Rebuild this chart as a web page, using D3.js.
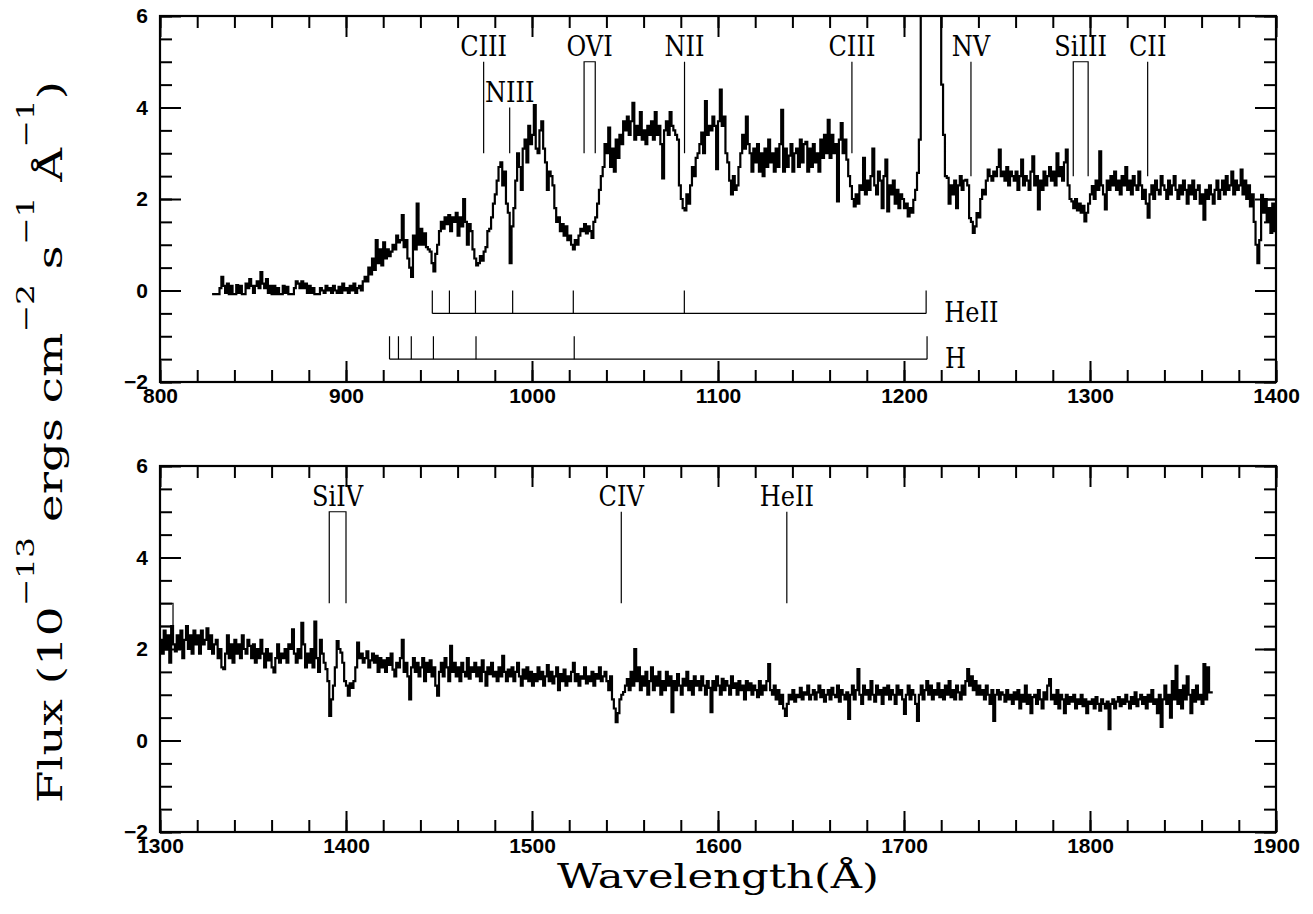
<!DOCTYPE html>
<html><head><meta charset="utf-8">
<script src="https://cdn.jsdelivr.net/npm/d3@7"></script>
<style>body{margin:0;background:#fff}svg{display:block}</style>
</head><body>
<svg id="chart" width="1313" height="914"></svg>
<script>
// ---------- DATA ----------
const topStart = 828; // Å, 1 Å bins
const topFlux = [
-0.08,-0.08,
-0.08,-0.08,0.05,0.3,0.1,-0.05,0.15,-0.08,0.1,-0.08,
-0.08,0.12,-0.05,0.1,-0.08,-0.08,0.15,0.05,0.25,0.1,
-0.05,0.1,0.2,0.05,0.4,0.15,0.05,0.25,-0.05,0.1,
-0.08,0.1,-0.08,0.05,-0.08,-0.08,0.1,-0.05,0.08,-0.08,
-0.08,-0.08,0.05,0.2,0.15,0.05,0.2,0.05,0.15,-0.05,
0.1,-0.05,0.05,-0.08,-0.08,-0.08,0.05,0.0,-0.05,0.1,
0.0,0.05,-0.05,0.1,0.0,-0.05,0.08,-0.05,0.15,0.0,
0.05,-0.05,0.1,0.0,0.15,-0.05,0.05,0.1,0.0,0.2,
0.3,0.2,0.5,0.35,0.7,0.45,1.1,0.6,0.9,0.55,
1.05,0.7,0.9,0.75,0.85,1.0,0.9,1.2,1.05,1.1,
1.65,0.95,1.1,0.7,0.5,0.3,1.2,0.9,1.9,1.0,
1.35,1.0,1.25,0.95,0.9,0.85,0.6,0.42,0.8,1.0,
1.3,1.5,1.35,1.6,1.45,1.65,1.3,1.6,1.5,1.7,
1.2,1.6,1.4,2.0,1.5,1.0,1.45,1.3,0.9,0.7,
0.55,0.6,0.75,0.65,0.85,0.95,1.3,1.35,1.6,1.9,
2.1,2.4,2.7,2.8,2.3,2.6,1.9,1.7,0.6,1.4,
1.8,2.4,3.0,2.7,2.2,3.1,3.3,2.8,3.6,3.2,
3.4,4.05,3.1,3.0,3.5,3.7,3.1,2.8,2.2,2.6,
2.5,2.3,1.8,1.5,1.6,1.3,1.45,1.2,1.4,1.1,
1.2,1.0,0.9,1.1,1.0,1.2,1.35,1.3,1.45,1.25,
1.4,1.3,1.15,1.5,1.6,1.9,2.2,2.5,2.7,3.2,
3.0,3.56,2.7,3.1,2.6,3.3,2.9,3.4,3.2,3.7,
3.5,3.8,3.4,3.7,4.1,3.3,3.6,3.4,3.9,3.3,
3.5,3.2,3.6,3.4,3.7,3.3,3.9,3.4,3.6,3.2,
2.45,3.5,3.7,3.4,3.9,3.6,3.5,3.4,3.3,2.3,
2.0,1.8,1.75,2.1,1.9,2.3,2.7,2.5,2.9,3.0,
3.2,3.45,3.0,4.14,3.4,3.6,3.5,3.8,3.6,2.65,
3.7,4.39,3.6,3.8,3.0,2.8,2.4,2.1,2.5,2.2,
2.3,2.7,3.0,3.4,3.1,3.8,3.2,3.0,2.6,3.1,
2.8,3.2,2.6,3.0,2.5,3.1,2.7,3.3,2.8,3.0,
2.6,3.1,2.7,3.2,3.95,2.6,3.1,2.7,2.95,3.2,
2.6,3.0,3.1,2.7,3.3,2.8,3.2,3.25,2.6,3.1,
2.7,3.2,2.8,3.0,2.6,3.3,2.9,3.4,3.0,3.73,
2.9,3.4,3.0,3.2,1.95,3.3,3.66,3.0,3.3,2.86,
2.5,2.28,2.0,1.84,2.1,1.9,2.3,2.2,2.9,2.1,
2.4,2.2,2.5,3.1,2.3,2.1,2.6,2.4,1.8,2.5,
2.86,1.73,2.3,2.1,2.4,1.9,2.2,1.8,2.1,2.0,
1.8,1.9,1.62,1.8,1.7,1.98,2.2,2.57,3.3,7.0,
7.0,7.0,7.0,7.0,7.0,7.0,7.0,7.0,7.0,6.5,
4.5,3.4,2.5,2.46,1.9,2.3,2.1,2.4,1.8,2.3,
2.5,2.2,2.4,2.42,2.3,1.58,1.5,1.26,1.4,1.69,
1.6,2.0,2.2,2.1,2.4,2.64,2.5,2.4,2.6,2.5,
2.7,3.08,2.5,2.6,2.4,2.7,2.3,2.6,2.5,2.4,
2.6,2.2,2.5,2.86,2.3,2.5,2.4,2.2,2.6,2.93,
2.3,2.5,1.77,2.4,2.2,2.6,2.3,2.5,2.7,2.4,
2.6,2.3,3.0,2.5,2.7,2.4,2.8,3.08,2.3,2.0,
1.95,1.8,2.0,1.75,1.9,1.7,1.85,1.51,1.7,1.9,
2.1,2.28,2.0,2.4,2.2,3.04,2.3,2.1,1.77,2.4,
2.2,2.5,2.3,2.6,2.2,2.4,2.1,2.5,2.3,2.7,
2.2,2.4,2.1,2.5,2.3,2.2,2.6,2.3,2.0,2.2,
1.9,1.59,2.1,2.3,2.0,2.4,2.2,2.1,2.5,2.3,
2.2,2.0,2.4,2.1,2.3,2.5,2.2,2.0,2.3,2.1,
2.4,2.2,1.9,2.3,2.1,2.4,2.0,2.2,2.3,1.9,
2.1,1.55,2.2,2.0,2.3,2.1,1.9,2.2,2.4,2.0,
2.2,2.4,2.1,2.5,2.2,2.3,2.6,2.1,2.4,2.2,
2.3,2.64,2.1,2.4,2.0,2.3,1.84,2.1,1.5,1.0,
0.6,1.1,2.09,1.7,2.0,1.5,1.8,1.26,1.9,1.3
];
const bottomStart = 1300; // Å, 1 Å bins
const bottomFlux = [
2.2,1.9,2.4,2.0,2.3,1.7,2.5,2.1,1.95,2.3,
2.0,2.4,1.8,2.2,2.5,2.0,2.3,1.9,2.4,2.1,
2.3,1.9,2.4,2.1,2.2,2.45,2.0,2.3,1.9,2.1,
2.2,1.8,2.0,1.6,1.56,1.9,2.3,1.8,2.1,1.7,
2.2,1.9,2.1,1.8,2.3,2.0,1.9,2.2,2.07,1.8,
2.1,1.7,2.0,1.8,2.2,1.9,1.6,2.0,1.75,1.9,
1.6,1.49,1.8,2.1,1.7,1.9,1.8,2.0,1.7,2.1,
2.0,2.43,1.9,1.7,2.0,1.8,2.57,2.1,1.6,1.9,
1.7,2.0,1.6,2.6,1.8,1.5,2.2,1.9,1.7,1.56,
1.3,0.54,0.9,1.2,1.6,2.17,2.0,1.92,1.7,1.3,
1.2,0.98,1.25,1.15,1.3,1.6,2.14,1.8,1.9,1.7,
1.8,1.95,1.6,1.75,1.9,1.7,1.85,1.5,1.8,1.6,
1.75,1.5,1.8,1.65,1.9,1.55,1.4,1.7,1.6,1.8,
2.2,1.5,1.7,1.4,0.9,1.6,1.8,1.5,1.7,1.4,
1.6,1.8,1.3,1.7,1.5,1.75,1.4,1.6,1.2,0.98,
1.5,1.7,1.4,1.8,1.6,1.3,2.07,1.5,1.7,1.4,
1.6,1.3,1.7,1.5,1.4,1.8,1.35,1.6,1.5,1.7,
1.4,1.6,1.3,1.75,1.5,1.2,1.6,1.45,1.7,1.4,
1.5,1.3,1.6,1.4,1.85,1.5,1.3,1.55,1.4,1.6,
1.3,1.5,1.7,1.4,1.2,1.55,1.35,1.6,1.3,1.5,
1.2,1.45,1.3,1.6,1.34,1.5,1.2,1.4,1.65,1.3,
1.5,1.25,1.4,1.6,1.1,1.45,1.3,1.55,1.2,1.4,
1.3,1.5,1.7,1.3,1.45,1.2,1.4,1.35,1.6,1.25,
1.4,1.3,1.5,1.2,1.45,1.35,1.6,1.3,1.4,1.5,
1.3,1.1,1.4,0.9,0.7,0.4,0.6,0.9,1.0,1.06,
1.2,1.34,1.1,1.5,1.2,2.0,1.3,1.6,1.1,1.4,
1.2,1.5,1.0,1.3,1.6,1.1,1.4,1.2,1.5,1.0,
1.3,1.1,1.5,1.2,1.4,0.62,1.3,1.1,1.45,1.2,
1.0,1.35,1.2,1.5,1.1,1.3,1.0,1.4,1.2,1.3,
1.1,1.4,1.2,1.0,1.3,1.15,0.62,1.3,1.1,1.4,
1.2,1.0,1.35,1.1,1.3,1.2,1.0,1.4,1.15,1.25,
1.0,1.3,1.1,1.2,0.9,1.3,1.1,1.25,1.0,1.2,
1.1,0.95,1.3,1.0,1.2,1.1,1.3,1.67,1.1,1.0,
1.2,0.9,1.1,0.8,1.0,0.7,0.54,0.8,1.0,0.9,
1.1,0.85,1.0,0.95,1.15,0.9,1.05,1.0,1.2,0.9,
1.0,1.1,0.9,1.05,1.2,0.95,1.1,0.85,1.0,1.1,
0.9,1.15,1.0,0.95,1.2,0.85,1.1,1.0,0.9,1.05,
0.47,1.0,1.2,0.9,1.1,1.56,1.0,0.8,1.2,1.0,
1.1,0.9,1.3,1.0,0.85,1.2,1.0,1.1,0.8,1.15,
1.0,1.2,0.9,1.1,1.0,0.8,1.2,1.0,1.1,0.9,
0.58,1.0,1.2,0.9,1.1,1.0,0.8,0.43,1.0,1.2,
0.9,1.1,1.3,1.0,1.2,0.9,1.1,1.0,1.25,0.95,
1.1,0.9,1.2,1.0,1.3,0.95,1.1,0.9,1.2,1.05,
0.9,1.2,1.0,1.3,1.56,1.2,1.4,1.1,1.3,1.0,
1.2,1.0,1.1,0.9,1.2,1.0,0.8,1.1,0.43,1.0,
1.1,0.9,1.05,1.0,0.85,1.1,0.9,1.0,0.8,1.05,
0.9,1.1,0.7,1.0,0.85,1.2,0.8,1.0,0.6,0.95,
1.0,0.8,1.1,0.9,0.7,1.05,0.9,1.2,1.34,0.9,
1.0,0.8,1.1,0.7,1.0,0.9,0.6,1.0,0.8,0.95,
0.85,1.0,0.7,0.9,0.8,1.0,0.75,0.9,0.6,0.85,
0.8,0.9,0.7,0.95,0.8,0.65,0.9,0.8,0.7,0.85,
0.25,0.8,0.9,0.7,0.85,0.95,0.75,0.9,0.8,1.0,
0.85,0.7,0.95,0.8,1.05,0.75,0.9,1.0,0.8,0.95,
0.7,1.0,0.85,1.1,0.8,0.9,0.6,1.0,0.3,0.9,
1.2,0.8,1.0,0.5,1.3,0.9,1.63,0.8,1.1,0.7,
1.2,0.9,1.4,1.0,0.6,1.1,0.85,1.2,0.9,1.0,
0.8,1.67,0.9,1.6,1.05,1.05
];

const topXTicks = [800, 900, 1000, 1100, 1200, 1300, 1400];
const bottomXTicks = [1300, 1400, 1500, 1600, 1700, 1800, 1900];
const yTicks = [-2, 0, 2, 4, 6];

// single-line identifications (wavelength, flux range of the marker)
const topLineLabels = ["CIII", "NIII", "NII", "CIII", "NV", "CII"];
const topLineWaves  = [974, 988, 1082, 1172, 1236, 1331];
const topLineLow    = [3, 3, 3, 3, 2.5, 2.5];
const topLineHigh   = [5, 4, 5, 5, 5, 5];
// doublet boxes
const topBoxLabels = ["OVI", "SiIII"];
const topBoxLeft   = [1028, 1291];
const topBoxRight  = [1034, 1299];
const topBoxLow    = [3, 2.5];
const topBoxHigh   = [5, 5];

const bottomLineLabels = ["CIV", "HeII"];
const bottomLineWaves  = [1548, 1637];
const bottomLineLow    = [3, 3];
const bottomLineHigh   = [5, 5];
const bottomBoxLabels = ["SiIV", ""];
const bottomBoxLeft   = [1391, 1300];
const bottomBoxRight  = [1400, 1307];
const bottomBoxLow    = [3, 2.5];
const bottomBoxHigh   = [5, 3];

// series limits (Lyman-like ladders)
const heiiSeries = [946.4, 955.6, 969.6, 989.6, 1022.2, 1081.9, 1211.9];
const hSeries    = [923.4, 928.2, 935.1, 947.0, 969.9, 1022.7, 1212.4];
const seriesLabels = ["HeII", "H"];
const seriesTop    = [0, -1.0];
const seriesBase   = [-0.5, -1.5];

// ---------- DRAW ----------
const svg = d3.select("#chart");
const serif = "'DejaVu Serif', serif";
const sans = "'Liberation Sans', Arial, sans-serif";

function panel(cfg) {
  const x = d3.scaleLinear().domain(cfg.xDomain).range([cfg.x0, cfg.x1]);
  const y = d3.scaleLinear().domain([-2, 6]).range([cfg.y1, cfg.y0]);
  const g = svg.append("g");
  const clipId = "clip" + cfg.id;
  svg.append("clipPath").attr("id", clipId).append("rect")
    .attr("x", cfg.x0).attr("y", cfg.y0).attr("width", cfg.x1 - cfg.x0).attr("height", cfg.y1 - cfg.y0);

  const minorX = d3.range(cfg.xDomain[0], cfg.xDomain[1] + 1, 20);
  const minorY = d3.range(-2, 6.01, 0.5);
  const styleAxis = sel => {
    sel.select(".domain").remove();
    sel.selectAll(".tick line").attr("stroke", "#000").attr("stroke-width", 2);
    sel.selectAll(".tick text").attr("font-family", sans).attr("font-weight", "bold")
      .attr("font-size", 21).attr("fill", "#000");
  };
  // bottom
  g.append("g").attr("transform", `translate(0,${cfg.y1})`)
    .call(d3.axisBottom(x).tickValues(minorX).tickSize(-12).tickFormat("")).call(styleAxis);
  g.append("g").attr("transform", `translate(0,${cfg.y1})`)
    .call(d3.axisBottom(x).tickValues(cfg.xTicks).tickSize(-21).tickPadding(6).tickFormat(d3.format("d"))).call(styleAxis);
  // top
  g.append("g").attr("transform", `translate(0,${cfg.y0})`)
    .call(d3.axisTop(x).tickValues(minorX).tickSize(-12).tickFormat("")).call(styleAxis);
  g.append("g").attr("transform", `translate(0,${cfg.y0})`)
    .call(d3.axisTop(x).tickValues(cfg.xTicks).tickSize(-21).tickFormat("")).call(styleAxis);
  // left
  g.append("g").attr("transform", `translate(${cfg.x0},0)`)
    .call(d3.axisLeft(y).tickValues(minorY).tickSize(-12).tickFormat("")).call(styleAxis);
  g.append("g").attr("transform", `translate(${cfg.x0},0)`)
    .call(d3.axisLeft(y).tickValues(yTicks).tickSize(-21).tickPadding(12).tickFormat(d3.format("d"))).call(styleAxis);
  // right
  g.append("g").attr("transform", `translate(${cfg.x1},0)`)
    .call(d3.axisRight(y).tickValues(minorY).tickSize(-12).tickFormat("")).call(styleAxis);
  g.append("g").attr("transform", `translate(${cfg.x1},0)`)
    .call(d3.axisRight(y).tickValues(yTicks).tickSize(-21).tickFormat("")).call(styleAxis);

  // frame
  g.append("rect").attr("x", cfg.x0).attr("y", cfg.y0)
    .attr("width", cfg.x1 - cfg.x0).attr("height", cfg.y1 - cfg.y0)
    .attr("fill", "none").attr("stroke", "#000").attr("stroke-width", 2.2);

  // spectrum
  const pts = cfg.flux.map((v, i) => [cfg.start + i, v]);
  pts.push([cfg.start + cfg.flux.length, cfg.flux[cfg.flux.length - 1]]);
  const line = d3.line().x(d => x(d[0])).y(d => y(d[1])).curve(d3.curveStepAfter);
  g.append("path").datum(pts).attr("d", line).attr("clip-path", `url(#${clipId})`)
    .attr("fill", "none").attr("stroke", "#000").attr("stroke-width", 2.2).attr("stroke-linejoin", "miter");

  const ann = g.append("g").attr("fill", "none").attr("stroke", "#000").attr("stroke-width", 1.2);
  const label = (txt, cx, by, anchor) => {
    if (!txt) return;
    g.append("text").attr("transform", `translate(${cx},${by}) scale(0.86,1)`)
      .attr("text-anchor", anchor || "middle").attr("font-family", serif).attr("font-size", 28)
      .attr("fill", "#000").text(txt);
  };
  cfg.lineWaves.forEach((w, i) => {
    ann.append("path").attr("d", `M${x(w)},${y(cfg.lineLow[i])}V${y(cfg.lineHigh[i])}`);
    label(cfg.lineLabels[i], x(w), y(cfg.lineHigh[i]) - 6);
  });
  cfg.boxLeft.forEach((l, i) => {
    const r = cfg.boxRight[i];
    const closed = !cfg.boxLabels[i];
    ann.append("path").attr("d",
      `M${x(l)},${y(cfg.boxLow[i])}V${y(cfg.boxHigh[i])}H${x(r)}V${y(cfg.boxLow[i])}` + (closed ? `H${x(l)}` : ""));
    label(cfg.boxLabels[i], (x(l) + x(r)) / 2, y(cfg.boxHigh[i]) - 6);
  });
  return {x, y, g};
}

const topP = panel({
  id: "top", x0: 160, x1: 1276, y0: 16, y1: 382, xDomain: [800, 1400], xTicks: topXTicks,
  start: topStart, flux: topFlux,
  lineLabels: topLineLabels, lineWaves: topLineWaves, lineLow: topLineLow, lineHigh: topLineHigh,
  boxLabels: topBoxLabels, boxLeft: topBoxLeft, boxRight: topBoxRight, boxLow: topBoxLow, boxHigh: topBoxHigh
});
panel({
  id: "bot", x0: 160, x1: 1276, y0: 466, y1: 832, xDomain: [1300, 1900], xTicks: bottomXTicks,
  start: bottomStart, flux: bottomFlux,
  lineLabels: bottomLineLabels, lineWaves: bottomLineWaves, lineLow: bottomLineLow, lineHigh: bottomLineHigh,
  boxLabels: bottomBoxLabels, boxLeft: bottomBoxLeft, boxRight: bottomBoxRight, boxLow: bottomBoxLow, boxHigh: bottomBoxHigh
});

// series ladders in top panel
[heiiSeries, hSeries].forEach((ser, k) => {
  const {x, y, g} = topP;
  const gs = g.append("g").attr("fill", "none").attr("stroke", "#000").attr("stroke-width", 1.2);
  gs.append("path").attr("d", `M${x(ser[0])},${y(seriesBase[k])}H${x(ser[ser.length - 1])}`);
  ser.forEach(w => gs.append("path").attr("d", `M${x(w)},${y(seriesTop[k])}V${y(seriesBase[k])}`));
  g.append("text").attr("transform", `translate(${x(ser[ser.length - 1]) + 18},${y(seriesBase[k]) + 9}) scale(0.86,1)`)
    .attr("font-family", serif).attr("font-size", 28).attr("fill", "#000").text(seriesLabels[k]);
});

// axis titles
svg.append("text").attr("x", 718).attr("y", 888).attr("text-anchor", "middle")
  .attr("font-family", serif).attr("font-size", 33).attr("fill", "#000")
  .attr("textLength", 322).attr("lengthAdjust", "spacingAndGlyphs").text("Wavelength(Å)");

const yt = svg.append("text").attr("transform", "translate(62,442) rotate(-90)")
  .attr("text-anchor", "middle").attr("font-family", serif).attr("font-size", 34).attr("fill", "#000")
  .attr("textLength", 722).attr("lengthAdjust", "spacingAndGlyphs");
const parts = [["Flux (10", 0], ["−13", 1], [" ergs cm", 0], ["−2", 1], [" s", 0], ["−1", 1], [" Å", 0], ["−1", 1], [")", 0]];
let state = 0;
parts.forEach(([t, sup]) => {
  const ts = yt.append("tspan").text(t);
  if (sup) ts.attr("font-size", 24);
  if (sup && !state) ts.attr("dy", -28);
  else if (!sup && state) ts.attr("dy", 28);
  state = sup;
});
</script>
</body></html>
